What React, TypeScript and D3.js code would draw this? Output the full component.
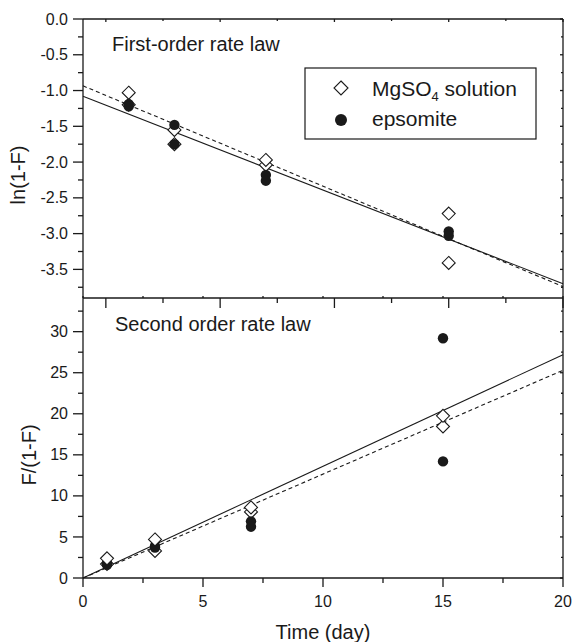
import React from "react";
import * as d3 from "d3";

// Sampling times (days) of the replicate measurements
const days = [1, 3, 7, 15];

// First-order plot: ln(1-F), two replicates per day
const mgso4FirstA = [-1.03, -1.55, -1.97, -2.72];
const mgso4FirstB = [-1.2, -1.75, -2.04, -3.41];
const epsomiteFirstA = [-1.19, -1.48, -2.18, -2.97];
const epsomiteFirstB = [-1.22, -1.75, -2.26, -3.03];

// Second-order plot: F/(1-F), two replicates per day
const mgso4SecondA = [2.4, 4.7, 8.6, 19.75];
const mgso4SecondB = [1.7, 3.3, 8.05, 18.45];
const epsomiteSecondA = [1.8, 3.9, 6.9, 29.2];
const epsomiteSecondB = [1.6, 3.7, 6.25, 14.2];

// Regression lines: [intercept, slope]
const firstSolidFit = [-1.205, -0.1248];
const firstDashedFit = [-1.068, -0.1336];
const secondSolidFit = [0, 1.36];
const secondDashedFit = [0, 1.265];

// Axis ticks
const firstYTicks = [0, -0.5, -1, -1.5, -2, -2.5, -3, -3.5];
const firstYLabels = ["0.0", "-0.5", "-1.0", "-1.5", "-2.0", "-2.5", "-3.0", "-3.5"];
const firstYMinor = [-0.25, -0.75, -1.25, -1.75, -2.25, -2.75, -3.25, -3.75];
const secondYTicks = [0, 5, 10, 15, 20, 25, 30];
const secondYLabels = ["0", "5", "10", "15", "20", "25", "30"];
const secondYMinor = [2.5, 7.5, 12.5, 17.5, 22.5, 27.5, 32.5];
const xTicks = [0, 5, 10, 15, 20];
const xLabels = ["0", "5", "10", "15", "20"];
const xMinor = [2.5, 7.5, 12.5, 17.5];

const FONT = "'Liberation Sans', Arial, Helvetica, sans-serif";
const INK = "#1a1a1a";

const L = 83;
const R = 563;
const T1 = 19;
const B1 = 298;
const B2 = 578;

export default function App() {
  const xTop = d3.scaleLinear().domain([-1, 20]).range([L, R]);
  const xBot = d3.scaleLinear().domain([0, 20]).range([L, R]);
  const yTop = d3.scaleLinear().domain([-3.9, 0]).range([B1, T1]);
  const yBot = d3.scaleLinear().domain([0, 34.1]).range([B2, B1]);

  const dPath = (cx: number, cy: number, h: number) =>
    `M${cx},${cy - h}L${cx + h},${cy}L${cx},${cy + h}L${cx - h},${cy}Z`;

  const line = d3.line<[number, number]>();
  const fitPts = (fit: number[], xs: number[], sx: any, sy: any): [number, number][] =>
    xs.map((x) => [sx(x), sy(fit[0] + fit[1] * x)] as [number, number]);

  const diamonds = (vals: number[], sx: any, sy: any, key: string) =>
    vals.map((v, i) => (
      <path key={key + i} d={dPath(sx(days[i]), sy(v), 6.5)} fill="#fff" stroke={INK} strokeWidth={1.1} />
    ));
  const circles = (vals: number[], sx: any, sy: any, key: string) =>
    vals.map((v, i) => <circle key={key + i} cx={sx(days[i])} cy={sy(v)} r={5.2} fill={INK} />);

  const axisStroke = { stroke: INK, strokeWidth: 1.3 };

  return (
    <svg
      width={573}
      height={642}
      style={{ position: "absolute", left: 0, top: 0, display: "block", background: "#fff" }}
      fontFamily={FONT}
    >
      <rect x={0} y={0} width={573} height={642} fill="#fff" />

      {/* fitted lines */}
      <path d={line(fitPts(firstSolidFit, [-1, 20], xTop, yTop)) || ""} fill="none" stroke={INK} strokeWidth={1.1} />
      <path
        d={line(fitPts(firstDashedFit, [-1, 20], xTop, yTop)) || ""}
        fill="none"
        stroke={INK}
        strokeWidth={1.1}
        strokeDasharray="4,3"
      />
      <path d={line(fitPts(secondSolidFit, [0, 20], xBot, yBot)) || ""} fill="none" stroke={INK} strokeWidth={1.1} />
      <path
        d={line(fitPts(secondDashedFit, [0, 20], xBot, yBot)) || ""}
        fill="none"
        stroke={INK}
        strokeWidth={1.1}
        strokeDasharray="4,3"
      />

      {/* markers */}
      {diamonds(mgso4FirstB, xTop, yTop, "d1b")}
      {diamonds(mgso4FirstA, xTop, yTop, "d1a")}
      {circles(epsomiteFirstA, xTop, yTop, "c1a")}
      {circles(epsomiteFirstB, xTop, yTop, "c1b")}
      {diamonds(mgso4SecondB, xBot, yBot, "d2b")}
      {circles(epsomiteSecondA, xBot, yBot, "c2a")}
      {circles(epsomiteSecondB, xBot, yBot, "c2b")}
      {diamonds(mgso4SecondA, xBot, yBot, "d2a")}

      {/* frames */}
      <line x1={L} x2={R} y1={T1} y2={T1} {...axisStroke} />
      <line x1={L} x2={R} y1={B1} y2={B1} {...axisStroke} />
      <line x1={L} x2={R} y1={B2} y2={B2} {...axisStroke} />
      <line x1={L} x2={L} y1={T1} y2={B2} {...axisStroke} />
      <line x1={R} x2={R} y1={T1} y2={B2} {...axisStroke} />

      {/* upper panel: left axis */}
      {firstYTicks.map((v, i) => (
        <g key={"fy" + i}>
          <line x1={L - 10} x2={L} y1={yTop(v)} y2={yTop(v)} {...axisStroke} />
          <line x1={R} x2={R - 3} y1={yTop(v)} y2={yTop(v)} {...axisStroke} />
          <text x={L - 15} y={yTop(v)} dy="0.35em" textAnchor="end" fontSize={16} fill={INK}>
            {firstYLabels[i]}
          </text>
        </g>
      ))}
      {firstYMinor.map((v, i) => (
        <g key={"fym" + i}>
          <line x1={L - 5} x2={L} y1={yTop(v)} y2={yTop(v)} {...axisStroke} />
          <line x1={R} x2={R - 2} y1={yTop(v)} y2={yTop(v)} {...axisStroke} />
        </g>
      ))}

      {/* upper panel: time axis (unlabelled, shared edge) */}
      {xTicks.map((v, i) => (
        <g key={"fx" + i}>
          <line x1={xTop(v)} x2={xTop(v)} y1={B1} y2={B1 + 10} {...axisStroke} />
          <line x1={xTop(v)} x2={xTop(v)} y1={T1} y2={T1 + 3} {...axisStroke} />
        </g>
      ))}
      {xMinor.map((v, i) => (
        <g key={"fxm" + i}>
          <line x1={xTop(v)} x2={xTop(v)} y1={B1} y2={B1 + 5} {...axisStroke} />
          <line x1={xTop(v)} x2={xTop(v)} y1={T1} y2={T1 + 2} {...axisStroke} />
        </g>
      ))}

      {/* lower panel: left axis */}
      {secondYTicks.map((v, i) => (
        <g key={"sy" + i}>
          <line x1={L - 10} x2={L} y1={yBot(v)} y2={yBot(v)} {...axisStroke} />
          <line x1={R} x2={R - 3} y1={yBot(v)} y2={yBot(v)} {...axisStroke} />
          <text x={L - 15} y={yBot(v)} dy="0.35em" textAnchor="end" fontSize={16} fill={INK}>
            {secondYLabels[i]}
          </text>
        </g>
      ))}
      {secondYMinor.map((v, i) => (
        <g key={"sym" + i}>
          <line x1={L - 5} x2={L} y1={yBot(v)} y2={yBot(v)} {...axisStroke} />
          <line x1={R} x2={R - 2} y1={yBot(v)} y2={yBot(v)} {...axisStroke} />
        </g>
      ))}

      {/* lower panel: time axis */}
      {xTicks.map((v, i) => (
        <g key={"sx" + i}>
          <line x1={xBot(v)} x2={xBot(v)} y1={B2} y2={B2 + 9} {...axisStroke} />
          <line x1={xBot(v)} x2={xBot(v)} y1={B1} y2={B1 - 2} {...axisStroke} />
          <text x={xBot(v)} y={607} textAnchor="middle" fontSize={16} fill={INK}>
            {xLabels[i]}
          </text>
        </g>
      ))}
      {xMinor.map((v, i) => (
        <g key={"sxm" + i}>
          <line x1={xBot(v)} x2={xBot(v)} y1={B2} y2={B2 + 5} {...axisStroke} />
          <line x1={xBot(v)} x2={xBot(v)} y1={B1} y2={B1 - 2} {...axisStroke} />
        </g>
      ))}

      {/* axis titles */}
      <text x={(L + R) / 2} y={639} textAnchor="middle" fontSize={20} fill={INK}>
        Time (day)
      </text>
      <text transform="translate(25,175) rotate(-90)" textAnchor="middle" fontSize={20} fill={INK}>
        ln(1-F)
      </text>
      <text transform="translate(36,455) rotate(-90)" textAnchor="middle" fontSize={20} fill={INK}>
        F/(1-F)
      </text>

      {/* panel titles */}
      <text x={112} y={51} fontSize={20} fill={INK}>
        First-order rate law
      </text>
      <text x={115} y={331} fontSize={20} fill={INK}>
        Second order rate law
      </text>

      {/* legend */}
      <rect x={305} y={68} width={231} height={71} fill="#fff" stroke={INK} strokeWidth={1.2} />
      <path d={dPath(341, 88, 7)} fill="#fff" stroke={INK} strokeWidth={1.1} />
      <text x={372} y={96} fontSize={21} fill={INK}>
        MgSO<tspan fontSize={13} dy={5}>4</tspan>
        <tspan dy={-5}> solution</tspan>
      </text>
      <circle cx={341} cy={120} r={6} fill={INK} />
      <text x={372} y={126} fontSize={21} fill={INK}>
        epsomite
      </text>
    </svg>
  );
}
